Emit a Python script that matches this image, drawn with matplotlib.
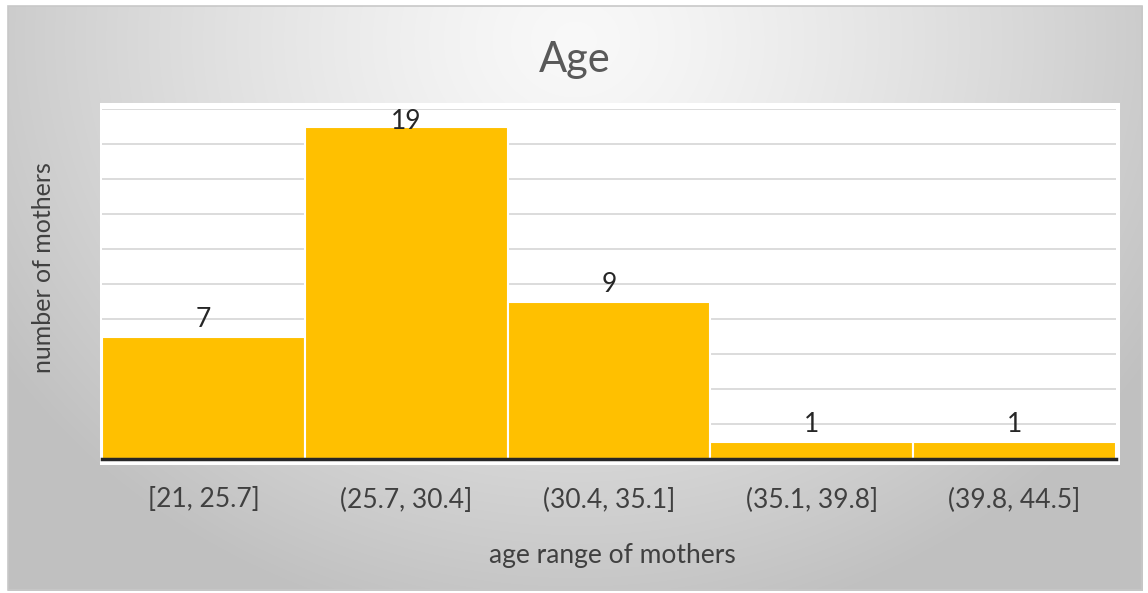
import numpy as np
import matplotlib
matplotlib.use("Agg")
import matplotlib.pyplot as plt
from matplotlib.patches import Rectangle

categories = ["[21, 25.7]", "(25.7, 30.4]", "(30.4, 35.1]", "(35.1, 39.8]", "(39.8, 44.5]"]
counts = [7, 19, 9, 1, 1]
title = "Age"
xlabel = "age range of mothers"
ylabel = "number of mothers"

W, H = 1148, 593
fig = plt.figure(figsize=(W / 100, H / 100), dpi=100)
fig.patch.set_facecolor("white")

# gradient background (radial, light near top centre)
bx0, by0, bx1, by1 = 8, 6, 1142, 590
yy, xx = np.mgrid[0:H, 0:W]
cx, cy = 575, 40
r = np.sqrt(((xx - cx) / 680.0) ** 2 + ((yy - cy) / 600.0) ** 2)
r = np.clip(r, 0, 1)
val = 0.975 - 0.22 * r ** 1.3
img = np.ones((H, W, 3))
mask = (xx >= bx0) & (xx <= bx1) & (yy >= by0) & (yy <= by1)
for c in range(3):
    img[..., c] = np.where(mask, val, 1.0)
bg = fig.add_axes([0, 0, 1, 1], zorder=0)
bg.imshow(img, extent=[0, W, H, 0], aspect="auto", interpolation="bilinear")
bg.add_patch(Rectangle((bx0, by0), bx1 - bx0, by1 - by0, fill=False, ec="#c8c8c8", lw=1.2))
# white plot area
bg.add_patch(Rectangle((100, 103), 1020, 362, fc="white", ec="none"))
bg.set_xlim(0, W)
bg.set_ylim(H, 0)
bg.axis("off")

# main axes
left, right = 102, 1116
top_px, base_px = 109, 459
ax = fig.add_axes([left / W, (H - base_px) / H, (right - left) / W, (base_px - top_px) / H], zorder=1)
ax.set_facecolor("none")
x = np.arange(len(categories))
ax.bar(x, counts, width=1.0, color="#FFC000", edgecolor="white", linewidth=1.5, zorder=2)
ax.set_xlim(-0.5, len(categories) - 0.5)
ax.set_ylim(0, 20)
ax.set_yticks(np.arange(2, 21, 2))
ax.yaxis.grid(True, color="#d9d9d9", linewidth=1.3, zorder=0)
ax.set_axisbelow(True)
ax.tick_params(axis="y", left=False, labelleft=False)
ax.tick_params(axis="x", bottom=False, pad=17)
ax.set_xticks(x)
ax.set_xticklabels(categories, fontsize=19, color="#404040", family="Lato")
for s in ["top", "right", "left"]:
    ax.spines[s].set_visible(False)
ax.spines["bottom"].set_color("#262626")
ax.spines["bottom"].set_linewidth(2.5)
ax.spines["bottom"].set_zorder(3)

for xi, v in zip(x, counts):
    ly = min(v + 0.95, 19.3)
    ax.text(xi, ly, str(v), ha="center", va="center", fontsize=19, color="#262626", family="Lato", zorder=4)

fig.text(575 / W, 1 - 60 / H, title, ha="center", va="center", fontsize=30, color="#595959", family="Lato")
fig.text(612 / W, 1 - 555 / H, xlabel, ha="center", va="center", fontsize=19, color="#404040", family="Lato")
fig.text(44 / W, 1 - 268 / H, ylabel, ha="center", va="center", rotation=90, fontsize=18, color="#404040", family="Lato")

fig.savefig("out.png", dpi=100)
